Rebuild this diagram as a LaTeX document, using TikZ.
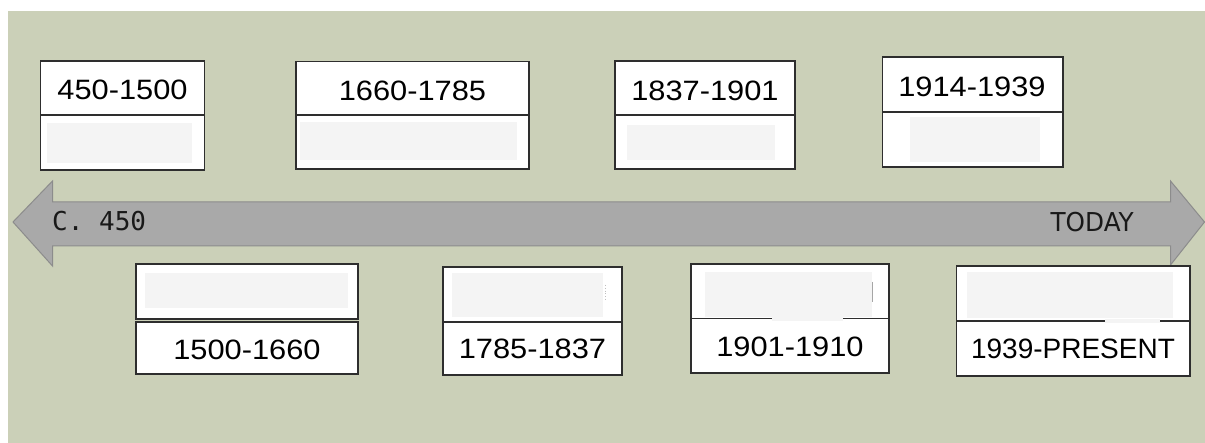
\documentclass[tikz,border=0pt]{standalone}
\usepackage{fontspec}
\setmainfont{Liberation Sans}
\newfontfamily\widefnt[FakeStretch=1.1]{Liberation Sans}
\newfontfamily\monofnt{DejaVu Sans Mono}
\newfontfamily\tahfnt[FakeStretch=0.95]{DejaVu Sans}
\definecolor{bgc}{HTML}{CBD0B8}
\definecolor{arrfill}{HTML}{A9A9A9}
\definecolor{arredge}{HTML}{8C8C8C}
\definecolor{boxedge}{HTML}{2E2E2E}
\definecolor{patchc}{HTML}{F4F4F4}
\tikzset{
  half/.style={draw=boxedge, line width=1.2pt, fill=white, inner sep=0pt, outer sep=0pt},
  patch/.style={fill=patchc, draw=none},
  lbl/.style={anchor=base, inner sep=0pt, font=\widefnt\fontsize{28}{34}\selectfont, text=black},
  endlbl/.style={inner sep=0pt, text=black!90}
}
\newcommand{\halfbox}[5]{% name, left, right, top, bottom
  \node[half, minimum width={#3-#2}, minimum height={#5-#4}] (#1) at ({(#2+#3)/2},{(#4+#5)/2}) {};
}
\begin{document}
\begin{tikzpicture}[x=1pt,y=-1pt]
\useasboundingbox (0,0) rectangle (1205,443);
\fill[white] (0,0) rectangle (1205,443);
\fill[bgc] (8,11) rectangle (1205,443);
% timeline arrow
\filldraw[fill=arrfill, draw=arredge, line width=1pt]
  (13,222) -- (52.5,181) -- (52.5,202) -- (1170.5,202) -- (1170.5,181) -- (1204.5,222)
  -- (1170.5,265) -- (1170.5,246) -- (52.5,246) -- (52.5,266) -- cycle;
\node[endlbl, anchor=base west, font=\monofnt\fontsize{26}{30}\selectfont] (start) at (52,231) {C. 450};
\node[endlbl, anchor=base east, font=\tahfnt\fontsize{26}{30}\selectfont] (today) at (1134,231.5) {TODAY};
% top row boxes
\halfbox{b1t}{40.5}{204.5}{61}{115}
\halfbox{b1b}{40.5}{204.5}{115}{170}
\halfbox{b2t}{296}{529}{61.5}{115}
\halfbox{b2b}{296}{529}{115}{169}
\halfbox{b3t}{615}{795}{61}{115}
\halfbox{b3b}{615}{795}{115}{169}
\halfbox{b4t}{882.5}{1063}{57}{112}
\halfbox{b4b}{882.5}{1063}{112}{167}
% bottom row boxes
\halfbox{b5t}{136}{358}{264}{319}
\halfbox{b5b}{136}{358}{322}{374}
\halfbox{b6t}{443}{622}{267}{322}
\halfbox{b6b}{443}{622}{322}{375}
\halfbox{b7t}{691}{889}{264}{318.5}
\halfbox{b7b}{691}{889}{318.5}{373}
\halfbox{b8t}{956.5}{1190}{266}{321}
\halfbox{b8b}{956.5}{1190}{321}{376}
% faint erased areas
\fill[patch] (47,123) rectangle (192,163);
\fill[patch] (300,122) rectangle (517,160);
\fill[patch] (627,125) rectangle (775,160);
\fill[patch] (910,117) rectangle (1040,162);
\fill[patch] (145,273) rectangle (348,308);
\fill[patch] (452,273) rectangle (603,317);
\fill[patch] (705,272) rectangle (872,317);
\fill[patch] (772,316) rectangle (843,321);
\fill[patch] (967,272) rectangle (1173,318);
\fill[patch] (1105,319) rectangle (1160,323);
\draw[gray!70, line width=0.8pt] (872,282) -- (872,302);
\draw[gray!50, line width=0.8pt, dotted] (605,285) -- (605,300);
% labels
\node[lbl] (t1) at (122.5,100) {450-1500};
\node[lbl] (t2) at (412.5,100.5) {1660-1785};
\node[lbl] (t3) at (705,100.5) {1837-1901};
\node[lbl] (t4) at (972,96.5) {1914-1939};
\node[lbl] (t5) at (247,360) {1500-1660};
\node[lbl] (t6) at (532.5,359) {1785-1837};
\node[lbl] (t7) at (790,356.5) {1901-1910};
\node[lbl, font=\fontsize{28}{33}\selectfont] (t8) at (1073,358.3) {1939-PRESENT};
\end{tikzpicture}
\end{document}
